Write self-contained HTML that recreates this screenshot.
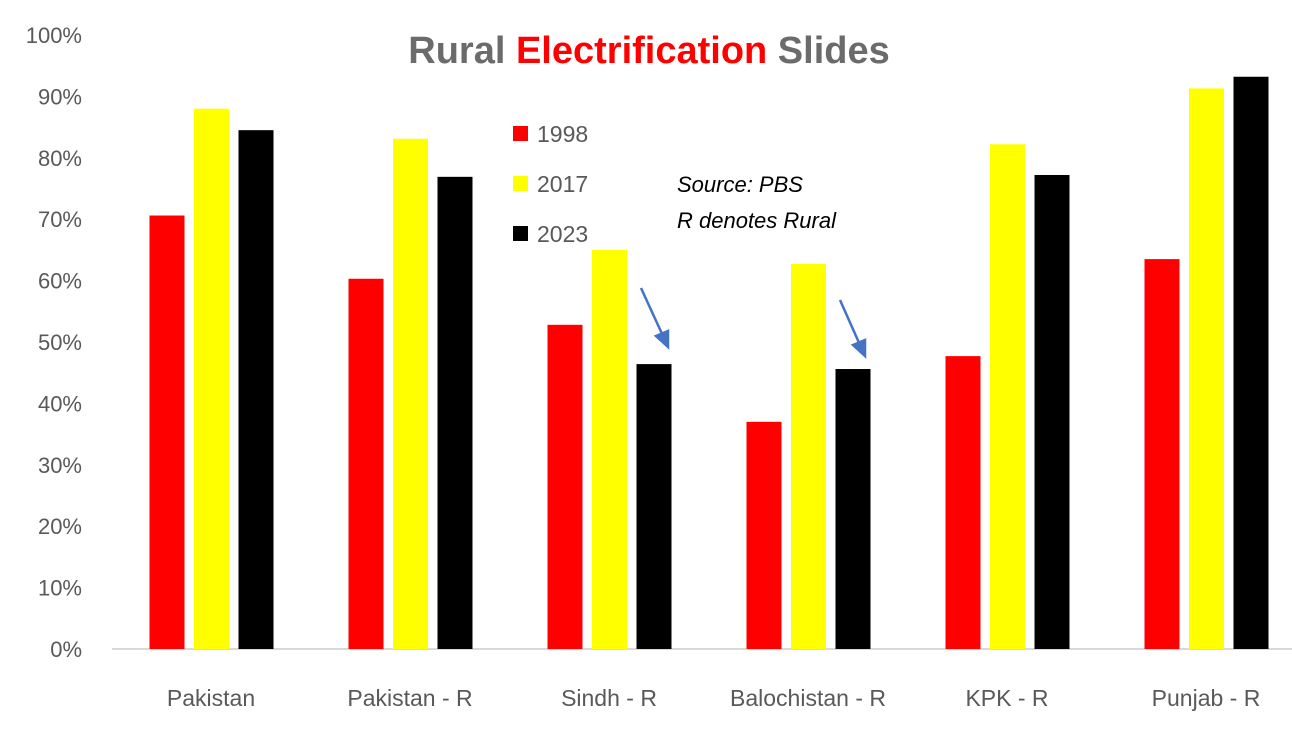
<!DOCTYPE html>
<html><head><meta charset="utf-8"><style>
body{margin:0;background:#fff;width:1292px;height:728px;overflow:hidden;font-family:"Liberation Sans",sans-serif}
</style></head><body>
<svg id="chart" width="1292" height="728" xmlns="http://www.w3.org/2000/svg">
<text x="649" y="63" text-anchor="middle" font-size="38" font-weight="bold" fill="#6b6b6b">Rural <tspan fill="#ff0000">Electrification</tspan> Slides</text>
<g id="grid"></g>
<g id="bars"></g>
<g font-size="23" fill="#595959">
<rect x="513" y="126" width="15" height="15" fill="#ff0000"/>
<text x="537" y="142">1998</text>
<rect x="513" y="176" width="15" height="15" fill="#ffff00"/>
<text x="537" y="192">2017</text>
<rect x="513" y="226" width="15" height="15" fill="#000000"/>
<text x="537" y="242">2023</text>
</g>
<g font-size="22" font-style="italic" fill="#000">
<text x="677" y="192">Source: PBS</text>
<text x="677" y="228">R denotes Rural</text>
</g>
<g stroke="#4472c4" stroke-width="2.5" fill="#4472c4">
<line x1="641" y1="288" x2="663" y2="336"/>
<polygon points="668,347 656,336 668,331"/>
<line x1="840" y1="300" x2="860" y2="345"/>
<polygon points="865,356 853,345 865,340"/>
</g>
</svg>
<script>
const categories=["Pakistan","Pakistan - R","Sindh - R","Balochistan - R","KPK - R","Punjab - R"];
const s1998=[70.6,60.3,52.8,37.0,47.7,63.5];
const s2017=[88.0,83.1,65.0,62.7,82.2,91.3];
const s2023=[84.5,76.9,46.4,45.6,77.2,93.2];
const yTicks=[0,10,20,30,40,50,60,70,80,90,100];
const NS="http://www.w3.org/2000/svg";
const y0=649,y100=35,left=111.5,step=199;
const y=v=>y0-(v/100)*(y0-y100);
const xc=i=>left+step*(i+0.5);
const grid=document.getElementById('grid'),bars=document.getElementById('bars');
function mk(tag,attrs,parent){const e=document.createElementNS(NS,tag);for(const k in attrs)e.setAttribute(k,attrs[k]);parent.appendChild(e);return e;}
yTicks.forEach(t=>{
 const tx=mk('text',{x:82,y:y(t)+8,'text-anchor':'end','font-size':22,fill:'#595959'},grid);
 
 
 tx.textContent=t+'%';
});
const ax=mk('line',{x1:112,x2:1292,y1:y0,y2:y0,stroke:'#d9d9d9','stroke-width':2},grid);


const series=[[s1998,'#ff0000','1998'],[s2017,'#ffff00','2017'],[s2023,'#000000','2023']];
categories.forEach((c,i)=>{
 series.forEach((s,j)=>{
  const v=s[0][i];
  const r=mk('rect',{x:xc(i)-61.5+j*44.5,y:y(v),width:35,height:y0-y(v),fill:s[1]},bars);
  
  
 });
 const t=mk('text',{x:xc(i),y:706,'text-anchor':'middle','font-size':23,fill:'#595959'},bars);
 
 
 t.textContent=c;
});
</script>
</body></html>
